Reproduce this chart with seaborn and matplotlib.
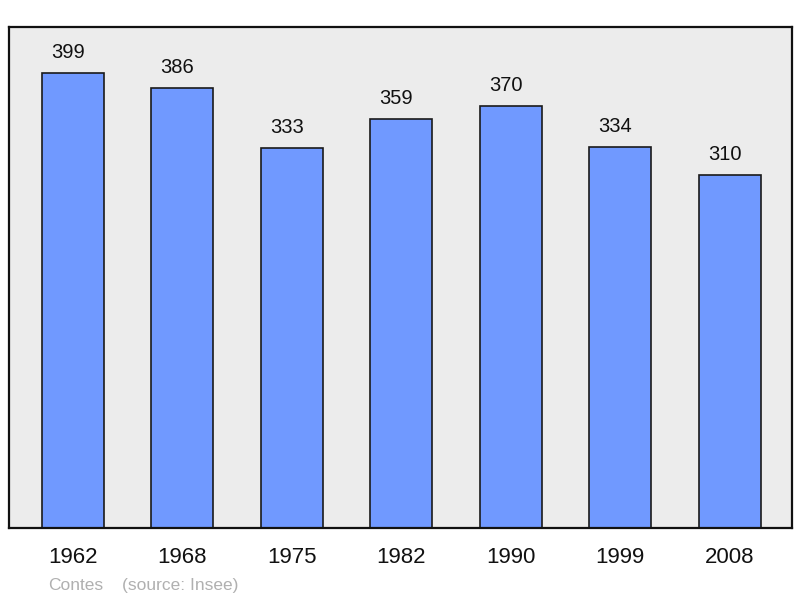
import matplotlib
matplotlib.use("Agg")
import matplotlib.pyplot as plt
import seaborn as sns
import pandas as pd

years = ["1962", "1968", "1975", "1982", "1990", "1999", "2008"]
population = [399, 386, 333, 359, 370, 334, 310]
commune = "Contes"
source = "(source: Insee)"

sns.set_style("white")
plt.rcParams['font.family'] = ['Liberation Sans', 'DejaVu Sans']

df = pd.DataFrame({"year": years, "pop": population})

fig = plt.figure(figsize=(8, 5.98), dpi=100)
ax = fig.add_axes([9/800, 70/598, 783/800, 501/598])
ax.set_facecolor("#ececec")

sns.barplot(data=df, x="year", y="pop", color="#7099ff", saturation=1,
            width=0.567, edgecolor="#1a1a1a", linewidth=1.2, ax=ax)

ax.set_xlim(-0.585, 6.57)
ax.set_ylim(0, 439.5)
ax.set_xlabel("")
ax.set_ylabel("")
ax.set_yticks([])
ax.tick_params(axis="x", length=0, pad=14, labelsize=16, labelcolor="#111111")

for c in ax.containers:
    labels = ax.bar_label(c, padding=8, fontsize=14.5, color="#111111")
    for t in labels:
        t.xyann = (-3.6, 8)

for s in ax.spines.values():
    s.set_visible(True)
    s.set_color("#111111")
    s.set_linewidth(1.6)

fig.text(48/800, 1 - 590/598, commune, fontsize=12.5,
         color="#b0b0b0", va="baseline", ha="left")
fig.text(122/800, 1 - 590/598, source, fontsize=12.5,
         color="#b0b0b0", va="baseline", ha="left")

fig.savefig("out.png", dpi=100)
